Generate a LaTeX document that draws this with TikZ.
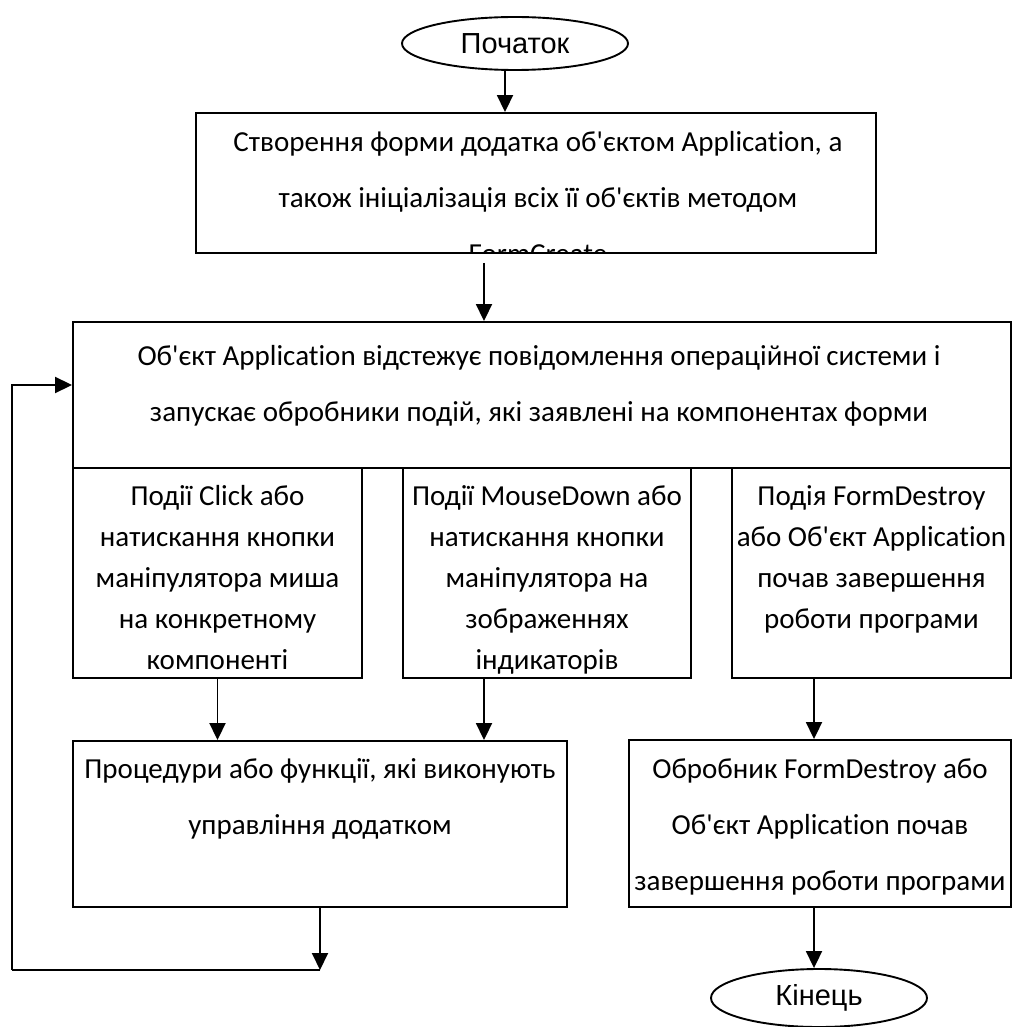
\documentclass[tikz,border=0pt]{standalone}
\usepackage{fontspec}
\newfontfamily\calf{Carlito}[Ligatures={NoCommon}]
\newfontfamily\arialf{Liberation Sans}
\usetikzlibrary{arrows.meta,shapes.geometric}
\begin{document}
\begin{tikzpicture}[x=1pt,y=-1pt,
  box/.style={draw, line width=1.9pt, inner sep=0pt, rectangle},
  oval/.style={draw, line width=1.9pt, ellipse, inner sep=0pt, font=\arialf\fontsize{29}{35}\selectfont},
  txt/.style={inner sep=0pt, anchor=north, align=center, font=\calf\fontsize{29}{56}\selectfont},
  txts/.style={inner sep=0pt, anchor=north, align=center, font=\calf\fontsize{29}{41}\selectfont},
  arr/.style={line width=1.9pt, -{Triangle[length=17pt,width=16pt]}},
  ln/.style={line width=1.9pt}]
\useasboundingbox (0,0) rectangle (1013,1027);

% shapes
\node[oval, minimum width=226pt, minimum height=53pt] (start) at (515,43.5) {Початок};
\node[box, minimum width=680pt, minimum height=140pt] (top) at (536,183) {};
\begin{scope}
  \clip (top.north west) rectangle (top.south east);
  \node[txt] (toptext) at (538,111.8) {\strut Створення форми додатка об'єктом Application, а\\також ініціалізація всіх її об'єктів методом\\FormCreate};
\end{scope}
\node[box, minimum width=938pt, minimum height=146pt] (main) at (542,395) {};
\node[txt] (maintext) at (539,325.8) {\strut Об'єкт Application відстежує повідомлення операційної системи і\\запускає обробники подій, які заявлені на компонентах форми};

\node[box, minimum width=289pt, minimum height=210pt] (sub1) at (217.5,573) {};
\node[txts] (sub1text) at (217.5,476.3) {\strut Події Click або\\натискання кнопки\\маніпулятора миша\\на конкретному\\компоненті};
\node[box, minimum width=288pt, minimum height=210pt] (sub2) at (547,573) {};
\node[txts] (sub2text) at (547,476.3) {\strut Події MouseDown або\\натискання кнопки\\маніпулятора на\\зображеннях\\індикаторів};
\node[box, minimum width=279pt, minimum height=210pt] (sub3) at (871.5,573) {};
\node[txts] (sub3text) at (871.5,476.3) {\strut Подія FormDestroy\\або Об'єкт Application\\почав завершення\\роботи програми};

\node[box, minimum width=494pt, minimum height=166pt] (proc) at (320,824) {};
\node[txt] (proctext) at (320,738.8) {\strut Процедури або функції, які виконують\\управління додатком};
\node[box, minimum width=382pt, minimum height=167pt] (fin) at (820,823.5) {};
\node[txt] (fintext) at (820,738.8) {\strut Обробник FormDestroy або\\Об'єкт Application почав\\завершення роботи програми};

\node[oval, minimum width=216pt, minimum height=58pt] (end) at (819,998) {Кінець};

% helper coordinates
\coordinate (c1) at (505,0);
\coordinate (c2) at (484,0);
\coordinate (c5) at (814,0);
\coordinate (lp) at (12,970);
\coordinate (ly) at (0,385);

% connectors
\draw[arr] (start.south -| c1) -- (top.north -| c1);
\draw[arr, shorten <=9pt] (top.south -| c2) -- (main.north -| c2);
\draw[arr] (sub1.south) -- (proc.north -| sub1.south);
\draw[arr] (sub2.south -| c2) -- (proc.north -| c2);
\draw[arr] (sub3.south -| c5) -- (fin.north -| c5);
\draw[arr] (fin.south -| c5) -- (end.north -| c5);
\draw[arr] (proc.south) -- (proc.south |- lp);
\draw[ln] (proc.south |- lp) -- (lp);
\draw[arr] (lp) |- (main.west |- ly);
\end{tikzpicture}
\end{document}
